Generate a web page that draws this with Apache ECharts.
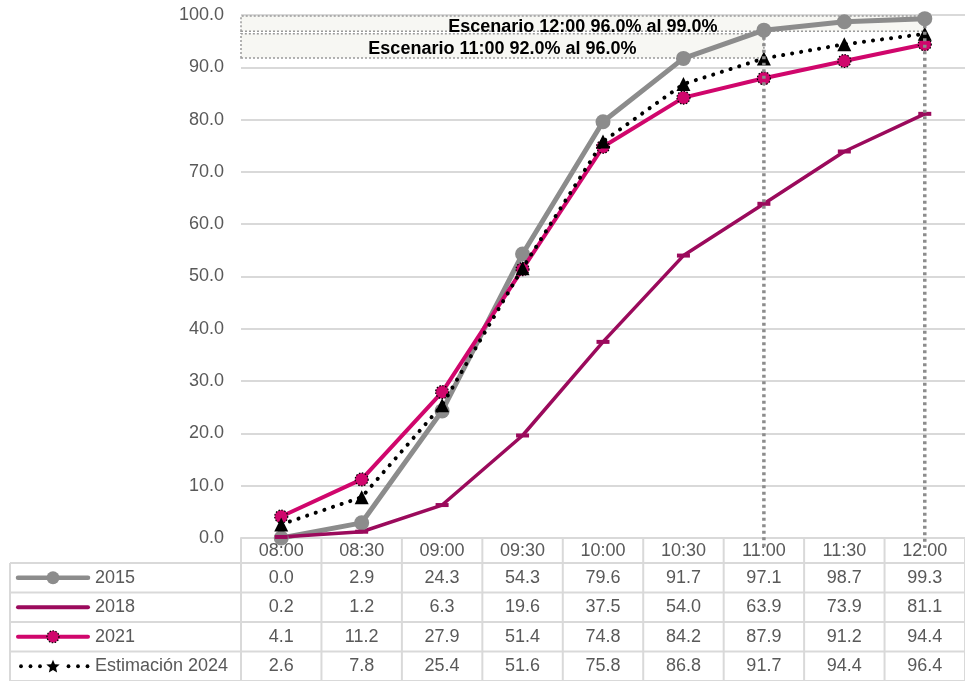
<!DOCTYPE html>
<html>
<head>
<meta charset="utf-8">
<script src="https://cdn.jsdelivr.net/npm/echarts@6/dist/echarts.min.js"></script>
<style>
html,body{margin:0;padding:0;background:#fff;}
#chart{width:965px;height:681px;}
</style>
</head>
<body>
<div id="chart"></div>
<script>
const categories = ['08:00','08:30','09:00','09:30','10:00','10:30','11:00','11:30','12:00'];
const s2015 = [0.0, 2.9, 24.3, 54.3, 79.6, 91.7, 97.1, 98.7, 99.3];
const s2018 = [0.2, 1.2, 6.3, 19.6, 37.5, 54.0, 63.9, 73.9, 81.1];
const s2021 = [4.1, 11.2, 27.9, 51.4, 74.8, 84.2, 87.9, 91.2, 94.4];
const s2024 = [2.6, 7.8, 25.4, 51.6, 75.8, 86.8, 91.7, 94.4, 96.4];
const seriesNames = ['2015', '2018', '2021', 'Estimación 2024'];
const yMin = 0, yMax = 100, yStep = 10;
const scenarioLabels = ['Escenario 12:00 96.0% al 99.0%', 'Escenario 11:00 92.0% al 96.0%'];
const scenarioLow = [96.9, 91.8];
const scenarioHigh = [99.8, 96.4];
const scenarioUntil = ['12:00', '11:00'];
const dropAt = ['11:00', '12:00'];

const FONT = 'Arial, "Liberation Sans", sans-serif';
const TXT = '#595959';
const GRIDC = '#d9d9d9';
const C2015 = '#8c8c8c', C2018 = '#9b0a5c', C2021 = '#d0066c', C2024 = '#000000';
const seriesData = [s2015, s2018, s2021, s2024];
const FS = 18;

const chart = echarts.init(document.getElementById('chart'));

const markAreaData = scenarioLabels.map((lab, i) => [
  { xAxis: -0.5, yAxis: scenarioLow[i], name: lab },
  { xAxis: categories.indexOf(scenarioUntil[i]), yAxis: scenarioHigh[i] }
]);

const option = {
  animation: false,
  backgroundColor: '#ffffff',
  grid: { left: 241, right: -5, top: 15, bottom: 143, containLabel: false },
  xAxis: [{
    type: 'category',
    data: categories,
    boundaryGap: true,
    axisLine: { show: true, lineStyle: { color: GRIDC, width: 2 } },
    axisTick: { show: false },
    axisLabel: { color: TXT, fontSize: FS, fontFamily: FONT, margin: 4 },
    splitLine: { show: false }
  }, {
    type: 'value', min: -0.5, max: categories.length - 0.5, show: false
  }],
  yAxis: {
    type: 'value', min: yMin, max: yMax, interval: yStep,
    axisLine: { show: false }, axisTick: { show: false },
    axisLabel: { color: TXT, fontSize: FS, fontFamily: FONT, margin: 17,
      formatter: v => v.toFixed(1) },
    splitLine: { lineStyle: { color: GRIDC, width: 2 } }
  },
  series: [
    {
      name: 'scenarios', type: 'line', xAxisIndex: 1, data: [], z: 1,
      markArea: {
        silent: true,
        itemStyle: { color: '#f7f7f3', borderColor: '#9a9a9a', borderWidth: 1.5, borderType: [2, 2] },
        label: { show: true, position: 'inside', offset: [0, 3], color: '#000', fontWeight: 'bold', fontSize: FS, fontFamily: FONT },
        data: markAreaData
      }
    },
    {
      name: seriesNames[0], type: 'line', data: s2015, z: 3,
      symbol: 'circle', symbolSize: 15,
      lineStyle: { color: C2015, width: 5 },
      itemStyle: { color: C2015 }
    },
    {
      name: seriesNames[1], type: 'line', data: s2018, z: 3,
      symbol: 'rect', symbolSize: [13, 4],
      lineStyle: { color: C2018, width: 3.5 },
      itemStyle: { color: C2018 }
    },
    {
      name: seriesNames[2], type: 'line', data: s2021, z: 4,
      symbol: 'circle', symbolSize: 13,
      lineStyle: { color: C2021, width: 4 },
      itemStyle: { color: C2021, borderColor: '#000', borderWidth: 1.2, borderType: [1.5, 1.5] }
    },
    {
      name: seriesNames[3], type: 'line', data: s2024, z: 5,
      symbol: 'triangle', symbolSize: 14,
      lineStyle: { color: C2024, width: 4, type: [0.1, 9], cap: 'round' },
      itemStyle: { color: C2024 }
    }
  ]
};
chart.setOption(option);

function starPoints(cx, cy, R, r) {
  const pts = [];
  for (let k = 0; k < 10; k++) {
    const a = -Math.PI / 2 + k * Math.PI / 5;
    const rad = k % 2 === 0 ? R : r;
    pts.push([cx + rad * Math.cos(a), cy + rad * Math.sin(a)]);
  }
  return pts;
}

// Data table and drop lines built from the axis scales
function drawTable() {
  const n = categories.length;
  const c0 = chart.convertToPixel({ xAxisIndex: 0 }, 0);
  const c1 = chart.convertToPixel({ xAxisIndex: 0 }, 1);
  const bw = c1 - c0;
  const axisY = chart.convertToPixel({ yAxisIndex: 0 }, 0);
  const headerH = 25;
  const rowH = 29.5;
  const tableLeft = 10;
  const rightEdge = c0 - bw / 2 + bw * n;
  const els = [];
  const ls = { stroke: GRIDC, lineWidth: 2 };
  const rowTop = axisY + headerH;
  for (let r = 0; r <= seriesNames.length; r++) {
    const y = rowTop + r * rowH;
    els.push({ type: 'line', shape: { x1: tableLeft, y1: y, x2: rightEdge, y2: y }, style: ls, silent: true });
  }
  els.push({ type: 'line', shape: { x1: tableLeft, y1: rowTop, x2: tableLeft, y2: rowTop + rowH * seriesNames.length }, style: ls, silent: true });
  for (let i = 0; i <= n; i++) {
    const x = c0 - bw / 2 + i * bw;
    els.push({ type: 'line', shape: { x1: x, y1: axisY, x2: x, y2: rowTop + rowH * seriesNames.length }, style: ls, silent: true });
  }
  // drop lines from the 2015 points
  dropAt.forEach(c => {
    const idx = categories.indexOf(c);
    const p = chart.convertToPixel({ gridIndex: 0 }, [c, s2015[idx]]);
    els.push({ type: 'line', silent: true, z: 100,
      shape: { x1: p[0], y1: p[1], x2: p[0], y2: axisY + 10 },
      style: { stroke: '#8c8c8c', lineWidth: 3.5, lineDash: [3, 3.5] } });
  });
  seriesData.forEach((arr, r) => {
    const cy = rowTop + r * rowH + rowH / 2;
    arr.forEach((v, i) => {
      els.push({ type: 'text', x: c0 + i * bw, y: cy, silent: true,
        style: { text: v.toFixed(1), fill: TXT, fontSize: FS, fontFamily: FONT, align: 'center', verticalAlign: 'middle' } });
    });
    const lx1 = 18, lx2 = 88, mx = 53;
    const col = [C2015, C2018, C2021, C2024][r];
    if (r === 3) {
      for (let k = 0; k < 8; k++) {
        const dx = lx1 + 3 + k * 9.5;
        if (Math.abs(dx - mx) < 7) continue;
        els.push({ type: 'circle', shape: { cx: dx, cy: cy, r: 1.9 }, style: { fill: '#000' }, silent: true });
      }
      els.push({ type: 'polygon', silent: true,
        shape: { points: starPoints(mx, cy + 0.5, 7, 3.2) }, style: { fill: '#000' } });
    } else {
      els.push({ type: 'line', silent: true, shape: { x1: lx1, y1: cy, x2: lx2, y2: cy },
        style: { stroke: col, lineWidth: r === 0 ? 4.5 : 4, lineCap: 'round' } });
      if (r === 0) {
        els.push({ type: 'circle', silent: true, shape: { cx: mx, cy: cy, r: 6.5 }, style: { fill: col } });
      } else if (r === 2) {
        els.push({ type: 'circle', silent: true, shape: { cx: mx, cy: cy, r: 6 },
          style: { fill: col, stroke: '#000', lineWidth: 1.2, lineDash: [1.5, 1.5] } });
      }
    }
    els.push({ type: 'text', x: 95, y: cy, silent: true,
      style: { text: seriesNames[r], fill: TXT, fontSize: FS, fontFamily: FONT, align: 'left', verticalAlign: 'middle' } });
  });
  chart.setOption({ graphic: { elements: els } });
}
drawTable();
</script>
</body>
</html>
